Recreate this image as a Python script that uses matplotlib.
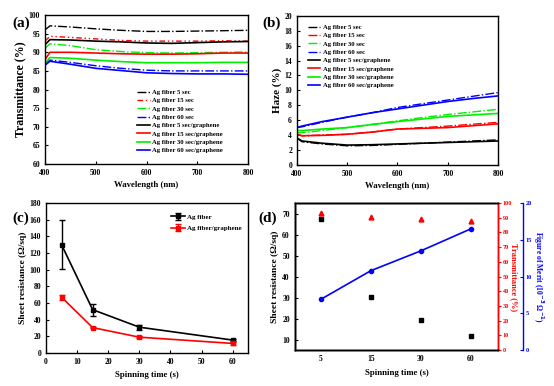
import matplotlib.pyplot as plt
import numpy as np

plt.rcParams['font.family'] = ['Liberation Serif', 'DejaVu Serif']
plt.rcParams['font.weight'] = 'bold'
plt.rcParams['axes.labelweight'] = 'bold'
plt.rcParams['xtick.direction'] = 'in'
plt.rcParams['ytick.direction'] = 'in'
plt.rcParams['xtick.labelsize'] = 5.5
plt.rcParams['ytick.labelsize'] = 5.5
plt.rcParams['xtick.major.size'] = 2.5
plt.rcParams['ytick.major.size'] = 2.5
plt.rcParams['axes.linewidth'] = 1.0

# --------- (a) transmittance spectra ---------
wl = [400, 410, 450, 500, 550, 600, 650, 700, 750, 800]
t_ag5 = [96.0, 97.1, 96.8, 96.3, 95.9, 95.6, 95.6, 95.7, 95.8, 95.9]
t_ag15 = [93.0, 94.3, 94.0, 93.6, 93.2, 93.0, 93.0, 93.0, 93.1, 93.0]
t_ag30 = [91.0, 92.3, 91.8, 90.7, 90.2, 89.9, 89.8, 89.9, 90.0, 90.1]
t_ag60 = [87.0, 87.9, 87.3, 86.4, 85.7, 85.2, 85.0, 85.0, 85.0, 85.0]
t_gr5 = [92.0, 93.4, 93.3, 93.0, 92.8, 92.5, 92.4, 92.6, 92.8, 92.9]
t_gr15 = [88.0, 90.0, 90.0, 89.8, 89.6, 89.5, 89.5, 89.6, 89.8, 89.8]
t_gr30 = [87.0, 88.6, 88.4, 87.9, 87.5, 87.2, 87.2, 87.2, 87.3, 87.3]
t_gr60 = [86.5, 87.6, 86.8, 85.7, 85.1, 84.5, 84.3, 84.2, 84.2, 84.1]

# --------- (b) haze spectra ---------
h_ag5 = [3.6, 3.1, 2.8, 2.55, 2.6, 2.75, 2.9, 3.05, 3.2, 3.35]
h_ag15 = [4.1, 3.9, 4.0, 4.1, 4.4, 4.8, 5.0, 5.2, 5.45, 5.7]
h_ag30 = [4.3, 4.3, 4.6, 5.0, 5.45, 5.9, 6.35, 6.75, 7.1, 7.45]
h_ag60 = [5.0, 5.1, 5.7, 6.4, 7.0, 7.7, 8.2, 8.7, 9.2, 9.7]
h_gr5 = [3.6, 3.2, 2.9, 2.65, 2.7, 2.8, 2.9, 3.0, 3.1, 3.2]
h_gr15 = [4.1, 3.9, 3.95, 4.1, 4.4, 4.8, 4.9, 5.0, 5.25, 5.5]
h_gr30 = [4.6, 4.6, 4.8, 5.0, 5.4, 5.8, 6.15, 6.5, 6.7, 6.9]
h_gr60 = [5.0, 5.2, 5.8, 6.4, 7.0, 7.5, 8.0, 8.5, 8.9, 9.25]

# --------- (c) sheet resistance ---------
spin = [5, 15, 30, 60]
rs_ag = [130, 52, 31, 15.5]
rs_ag_err = [29.5, 7, 3, 1.5]
rs_gr = [67, 30.5, 19, 11.5]
rs_gr_err = [3, 1, 1, 1.5]

# --------- (d) graphene samples ---------
spin_labels = ['5', '15', '30', '60']
rs_d = [67.5, 30.5, 19.5, 12]
trans_d = [93.4, 90.2, 89.0, 88.0]
fom_d = [6.9, 10.8, 13.5, 16.5]

fig = plt.figure(figsize=(5.54, 3.86), dpi=100)

xlab_fs = 6.3
leg_fs = 4.8
green = '#00ee00'
leg_kw = dict(frameon=False, fontsize=leg_fs, handlelength=1.9, handletextpad=0.4,
              labelspacing=0.4, borderpad=0.2)

# (a)
ax = fig.add_axes([0.081, 0.575, 0.367, 0.386])
ax.plot(wl, t_ag5, color='black', ls='-.', lw=1, label='Ag fiber 5 sec')
ax.plot(wl, t_ag15, color='red', ls=(0, (4, 2, 1, 2, 1, 2)), lw=1, label='Ag fiber 15 sec')
ax.plot(wl, t_ag30, color=green, ls='-.', lw=1, label='Ag fiber 30 sec')
ax.plot(wl, t_ag60, color='blue', ls='-.', lw=1, label='Ag fiber 60 sec')
ax.plot(wl, t_gr5, color='black', lw=1.2, label='Ag fiber 5 sec/graphene')
ax.plot(wl, t_gr15, color='red', lw=1.2, label='Ag fiber 15 sec/graphene')
ax.plot(wl, t_gr30, color=green, lw=1.2, label='Ag fiber 30 sec/graphene')
ax.plot(wl, t_gr60, color='blue', lw=1.2, label='Ag fiber 60 sec/graphene')
ax.set_xlim(400, 800)
ax.set_ylim(60, 100)
ax.set_xticks([400, 500, 600, 700, 800])
ax.set_yticks(np.arange(60, 101, 5))
ax.set_xlabel('Wavelength (nm)', fontsize=xlab_fs, labelpad=3)
ax.set_ylabel('Transmittance (%)', fontsize=8.5, labelpad=2)
ax.legend(loc='lower right', bbox_to_anchor=(0.9, 0.04), **leg_kw)
fig.text(0.022, 0.93, '(a)', fontsize=11, fontweight='bold')

# (b)
ax = fig.add_axes([0.536, 0.573, 0.363, 0.386])
ax.plot(wl, h_ag5, color='black', ls='-.', lw=1, label='Ag fiber 5 sec')
ax.plot(wl, h_ag15, color='red', ls='-.', lw=1, label='Ag fiber 15 sec')
ax.plot(wl, h_ag30, color=green, ls='-.', lw=1, label='Ag fiber 30 sec')
ax.plot(wl, h_ag60, color='blue', ls='-.', lw=1, label='Ag fiber 60 sec')
ax.plot(wl, h_gr5, color='black', lw=1.2, label='Ag fiber 5 sec/graphene')
ax.plot(wl, h_gr15, color='red', lw=1.2, label='Ag fiber 15 sec/graphene')
ax.plot(wl, h_gr30, color=green, lw=1.2, label='Ag fiber 30 sec/graphene')
ax.plot(wl, h_gr60, color='blue', lw=1.2, label='Ag fiber 60 sec/graphene')
ax.set_xlim(400, 800)
ax.set_ylim(0, 20)
ax.set_xticks([400, 500, 600, 700, 800])
ax.set_yticks(np.arange(0, 21, 2))
ax.set_xlabel('Wavelength (nm)', fontsize=xlab_fs, labelpad=3)
ax.set_ylabel('Haze (%)', fontsize=8, labelpad=2)
ax.legend(loc='upper left', bbox_to_anchor=(0.03, 0.975), **leg_kw)
fig.text(0.473, 0.93, '(b)', fontsize=11, fontweight='bold')

# (c)
ax = fig.add_axes([0.083, 0.0855, 0.365, 0.3885])
ax.errorbar(spin, rs_ag, yerr=rs_ag_err, color='black', marker='s', ms=3, lw=1.2,
            capsize=2, elinewidth=1, label='Ag fiber')
ax.errorbar(spin, rs_gr, yerr=rs_gr_err, color='red', marker='s', ms=3, lw=1.2,
            capsize=2, elinewidth=1, label='Ag fiber/graphene')
ax.set_xlim(0, 65)
ax.set_ylim(0, 180)
ax.set_xticks(np.arange(0, 61, 10))
ax.set_yticks(np.arange(0, 181, 20))
ax.set_xlabel('Spinning time (s)', fontsize=xlab_fs, labelpad=4)
ax.set_ylabel('Sheet resistance (Ω/sq)', fontsize=6.8, labelpad=2)
ax.legend(loc='upper right', bbox_to_anchor=(1.0, 0.97), frameon=False, fontsize=5,
          handlelength=2.0, handletextpad=0.4, labelspacing=0.8)
fig.text(0.022, 0.425, '(c)', fontsize=11, fontweight='bold')

# (d)
ax = fig.add_axes([0.532, 0.093, 0.367, 0.381])
xd = np.arange(len(spin_labels))
ax.plot(xd, rs_d, 's', color='black', ms=3)
ax.set_xlim(-0.52, 3.54)
ax.set_ylim(5.2, 75.2)
ax.set_xticks(xd)
ax.set_xticklabels(spin_labels)
ax.set_yticks(np.arange(10, 71, 10))
ax.set_xlabel('Spinning time (s)', fontsize=xlab_fs, labelpad=4)
ax.set_ylabel('Sheet resistance (Ω/sq)', fontsize=6.8, labelpad=2)
ax.tick_params(axis='x', length=0)

ax2 = ax.twinx()
ax2.plot(xd, trans_d, '^', color='red', ms=3.5)
ax2.set_ylim(0, 100)
ax2.set_yticks(np.arange(0, 101, 10))
ax2.spines['right'].set_color('red')
ax2.tick_params(axis='y', colors='red', direction='out', length=2, pad=1.5, labelsize=4.5)
ax2.set_ylabel('Transmittance (%)', color='red', fontsize=6.0, rotation=270, labelpad=4)

ax3 = ax.twinx()
ax3.spines['right'].set_position(('axes', 1.125))
ax3.plot(xd, fom_d, 'o-', color='blue', ms=3, lw=1.2)
ax3.set_ylim(0, 20)
ax3.set_yticks([0, 5, 10, 15, 20])
ax3.spines['right'].set_color('blue')
ax3.tick_params(axis='y', colors='blue', direction='in', length=2, pad=1.5, labelsize=4.5)
ax3.set_ylabel('Figure of Merit (10$^{-3}$ Ω$^{-1}$)', color='blue', fontsize=5.5,
               rotation=270, labelpad=10)
fig.text(0.466, 0.425, '(d)', fontsize=11, fontweight='bold')

fig.savefig('out.png', dpi=100)
